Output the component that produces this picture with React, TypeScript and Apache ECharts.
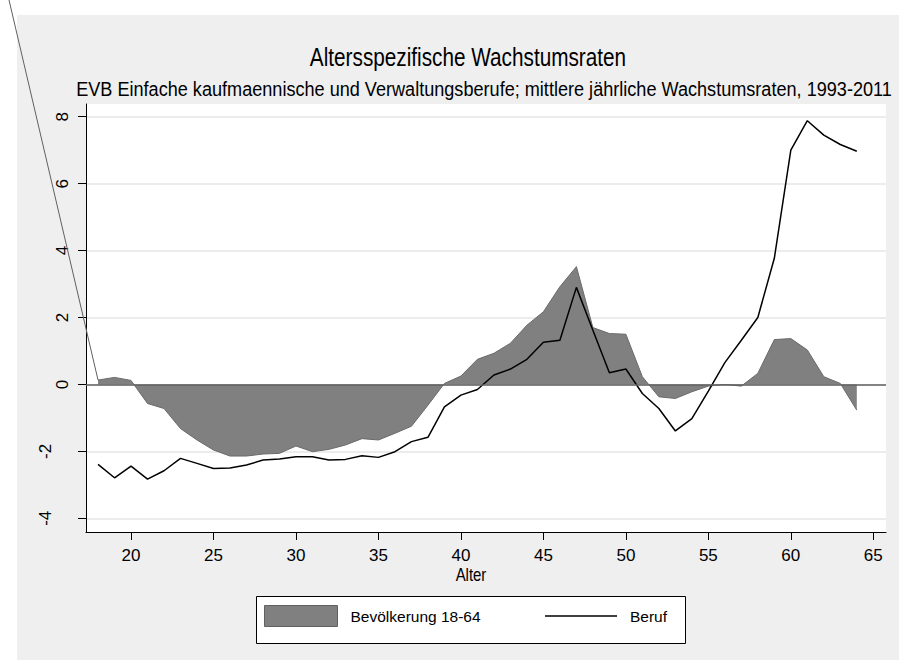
import React, { useEffect, useRef } from "react";
import * as echarts from "echarts";

const ages = [18, 19, 20, 21, 22, 23, 24, 25, 26, 27, 28, 29, 30, 31, 32, 33, 34, 35, 36, 37, 38, 39, 40, 41, 42, 43, 44, 45, 46, 47, 48, 49, 50, 51, 52, 53, 54, 55, 56, 57, 58, 59, 60, 61, 62, 63, 64];

const bevoelkerung = [0.13, 0.21, 0.12, -0.57, -0.72, -1.32, -1.66, -1.96, -2.14, -2.14, -2.08, -2.06, -1.84, -2.01, -1.94, -1.81, -1.62, -1.66, -1.46, -1.25, -0.62, 0.03, 0.25, 0.75, 0.93, 1.23, 1.77, 2.17, 2.92, 3.52, 1.7, 1.52, 1.5, 0.23, -0.37, -0.42, -0.22, -0.05, 0.0, -0.05, 0.33, 1.34, 1.37, 1.03, 0.23, 0.03, -0.77];

const beruf = [-2.39, -2.79, -2.44, -2.83, -2.58, -2.21, -2.36, -2.51, -2.5, -2.41, -2.26, -2.23, -2.16, -2.16, -2.26, -2.24, -2.13, -2.18, -2.01, -1.71, -1.58, -0.67, -0.32, -0.15, 0.28, 0.46, 0.75, 1.26, 1.32, 2.9, 1.62, 0.35, 0.46, -0.27, -0.72, -1.39, -1.02, -0.2, 0.65, 1.32, 2.0, 3.77, 7.0, 7.88, 7.45, 7.17, 6.97];

const xTicks = [20, 25, 30, 35, 40, 45, 50, 55, 60, 65];
const yTicks = [-4, -2, 0, 2, 4, 6, 8];

const titleText = "Altersspezifische Wachstumsraten";
const subtitleText = "EVB Einfache kaufmaennische und Verwaltungsberufe; mittlere jährliche Wachstumsraten, 1993-2011";
const xName = "Alter";
const seriesNames = ["Bevölkerung 18-64", "Beruf"];

const FONT = "'Liberation Sans', Arial, Helvetica, sans-serif";

export default function App() {
  const ref = useRef<HTMLDivElement>(null);

  useEffect(() => {
    if (!ref.current) return;
    const chart = echarts.init(ref.current, null, { renderer: "svg" });

    const textStyle = (text: string, size: number) => ({
      text, fontSize: size, fontFamily: FONT, fill: "#000",
      align: "center", verticalAlign: "middle", textAlign: "center", textVerticalAlign: "middle",
    });

    const baseGraphic: any[] = [
      { id: "wTop", type: "rect", z: 0, shape: { x: 0, y: 0, width: 899, height: 15 }, style: { fill: "#ffffff" } },
      { id: "wLeft", type: "rect", z: 0, shape: { x: 0, y: 0, width: 17, height: 660 }, style: { fill: "#ffffff" } },
      { id: "title", type: "text", x: 468, y: 57, z: 5, scaleX: 0.83, style: textStyle(titleText, 25) },
      { id: "subtitle", type: "text", x: 484, y: 89, z: 5, scaleX: 0.862, style: textStyle(subtitleText, 21) },
      { id: "xname", type: "text", x: 471, y: 575, z: 5, scaleX: 0.83, style: textStyle(xName, 18) },
      {
        id: "legbox", type: "rect", z: 1,
        shape: { x: 256.5, y: 596.5, width: 429, height: 47 },
        style: { fill: "#ffffff", stroke: "#000000", lineWidth: 1 },
      },
    ];

    const legendText = { fontSize: 15.5, fontFamily: FONT, color: "#000", padding: [0, 0, 0, 8] };

    const option: any = {
      animation: false,
      backgroundColor: "#efefef",
      grid: {
        left: 86, right: 13, top: 104, bottom: 128,
        show: true, backgroundColor: "#ffffff", borderWidth: 0, containLabel: false,
      },
      xAxis: {
        type: "value",
        min: 17.27,
        max: 65.77,
        axisLine: { show: true, onZero: false, lineStyle: { color: "#000", width: 1 } },
        axisTick: { show: true, length: 8, customValues: xTicks, lineStyle: { color: "#000", width: 1 } },
        axisLabel: { customValues: xTicks, margin: 14, fontSize: 17, lineHeight: 18, fontFamily: FONT, color: "#000" },
        splitLine: { show: false },
      },
      yAxis: {
        type: "value",
        min: -4.41,
        max: 8.38,
        splitNumber: 6,
        axisLine: { show: true, onZero: false, lineStyle: { color: "#000", width: 1 } },
        axisTick: { show: true, length: 8, customValues: yTicks, lineStyle: { color: "#000", width: 1 } },
        axisLabel: {
          customValues: yTicks,
          rotate: 90,
          margin: 15,
          fontSize: 17,
          lineHeight: 18,
          fontFamily: FONT,
          color: "#000",
          formatter: (v: number) => (v < 0 ? `${v}\n{g| }` : `${v}`),
          rich: { g: { lineHeight: 16.5, fontSize: 2 } },
        },
        splitLine: { show: true, lineStyle: { color: "#e6e6e6", width: 1.5 } },
      },
      legend: [
        {
          orient: "horizontal",
          left: 264,
          top: 605,
          padding: 0,
          itemWidth: 73,
          itemHeight: 21,
          z: 10,
          selectedMode: false,
          textStyle: legendText,
          data: [{ name: seriesNames[0], icon: "rect", itemStyle: { color: "#808080", borderColor: "#606060", borderWidth: 1 } }],
        },
        {
          orient: "horizontal",
          left: 545,
          top: 608,
          padding: 0,
          itemWidth: 72,
          itemHeight: 1.5,
          z: 10,
          selectedMode: false,
          textStyle: legendText,
          data: [{ name: seriesNames[1], icon: "rect", itemStyle: { color: "#000", borderWidth: 0 } }],
        },
      ],
      series: [
        {
          name: seriesNames[0],
          type: "line",
          data: ages.map((a, i) => [a, bevoelkerung[i]]),
          symbol: "none",
          z: 2,
          lineStyle: { color: "#6a6a6a", width: 1 },
          itemStyle: { color: "#808080" },
          areaStyle: { color: "#808080", opacity: 1, origin: 0 },
          markLine: {
            silent: true,
            symbol: "none",
            label: { show: false },
            lineStyle: { color: "#606060", width: 1.5, type: "solid" },
            data: [{ yAxis: 0 }],
          },
        },
        {
          name: seriesNames[1],
          type: "line",
          data: ages.map((a, i) => [a, beruf[i]]),
          symbol: "none",
          z: 3,
          lineStyle: { color: "#000", width: 1.5 },
          itemStyle: { color: "#000" },
        },
      ],
      graphic: baseGraphic,
    };

    chart.setOption(option);

    const p = chart.convertToPixel({ xAxisIndex: 0, yAxisIndex: 0 }, [ages[0], bevoelkerung[0]]) as number[];
    if (p && isFinite(p[0]) && isFinite(p[1])) {
      chart.setOption({
        graphic: [
          ...baseGraphic,
          {
            id: "diag", type: "line", z: 20,
            shape: { x1: 9, y1: 0, x2: p[0], y2: p[1] },
            style: { stroke: "#606060", lineWidth: 1 },
          },
        ],
      });
    }

    return () => chart.dispose();
  }, []);

  return <div ref={ref} style={{ position: "absolute", left: 0, top: 0, width: 899, height: 660 }} />;
}
